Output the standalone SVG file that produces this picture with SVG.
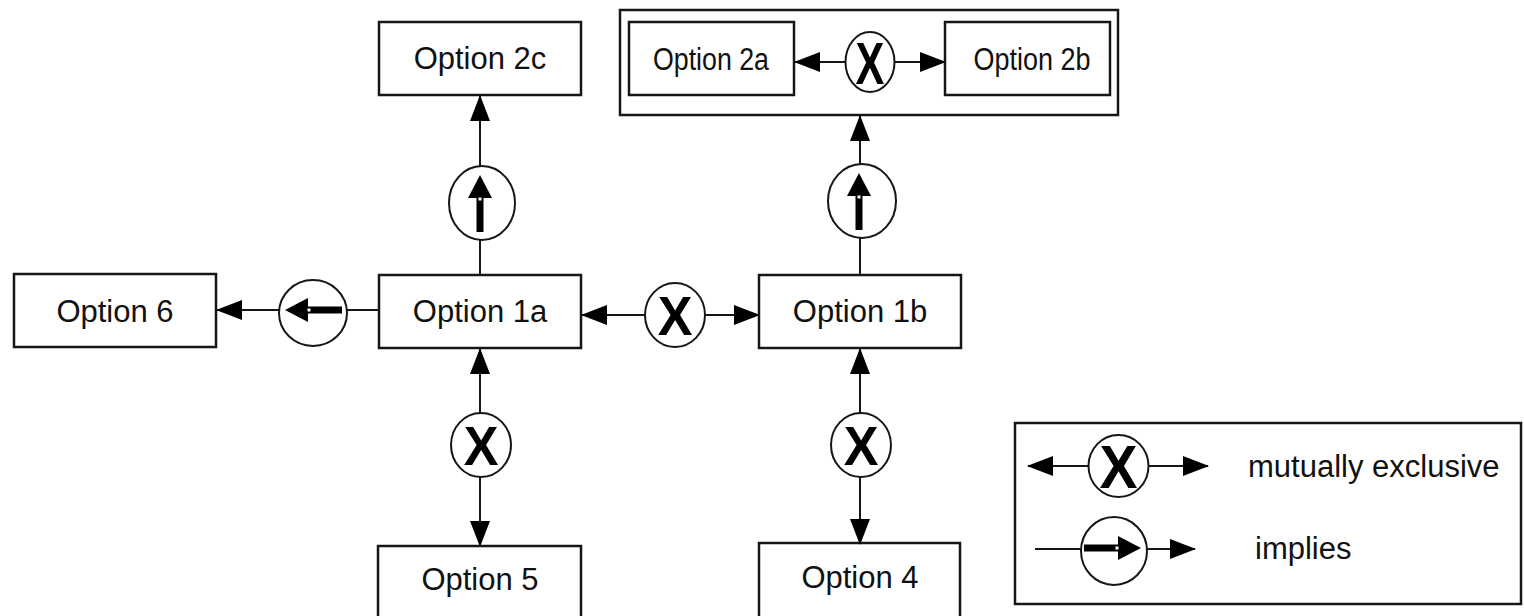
<svg xmlns="http://www.w3.org/2000/svg" width="1524" height="616" viewBox="0 0 1524 616">
  <style>
    .box { fill: #ffffff; stroke: #161616; stroke-width: 2.5; }
    .gate { fill: #ffffff; stroke: #161616; stroke-width: 2; }
    .wire { fill: none; stroke: #161616; stroke-width: 2; }
    .label { font-family: "Liberation Sans", Arial, sans-serif; font-size: 31px; fill: #111111; text-anchor: middle; }
    .xmark { font-family: "Liberation Sans", Arial, sans-serif; font-weight: bold; fill: #000000; text-anchor: middle; }
  </style>
  <defs>
    <marker id="head" markerUnits="userSpaceOnUse" markerWidth="26" markerHeight="20" viewBox="0 0 26 20" refX="25" refY="10" orient="auto">
      <path d="M0,0 L26,10 L0,20 Z" fill="#000000"/>
    </marker>
    <!-- thick "implies" arrow, pointing right, centred on the origin -->
    <g id="implies-glyph">
      <rect x="-29" y="-3.5" width="36" height="7" fill="#000000"/>
      <path d="M5,-12 L28,0 L5,12 Z" fill="#000000"/>
      <rect x="2.5" y="-1.5" width="3" height="3" fill="#ffffff"/>
    </g>
  </defs>

  <rect width="1524" height="616" fill="#ffffff"/>

  <!-- option 2 group container -->
  <g id="option2-group">
    <rect class="box" x="620" y="10" width="498" height="105"/>
  </g>

  <g id="option2a">
    <rect class="box" x="629" y="22" width="165" height="73"/>
    <text class="label" x="711" y="70" textLength="116" lengthAdjust="spacingAndGlyphs">Option 2a</text>
  </g>
  <g id="option2b">
    <rect class="box" x="945" y="22" width="165" height="73"/>
    <text class="label" x="1032" y="70" textLength="117" lengthAdjust="spacingAndGlyphs">Option 2b</text>
  </g>
  <g id="gate-2a-2b">
    <ellipse class="gate" cx="870" cy="62" rx="24.5" ry="30"/>
    <text class="xmark" font-size="60" transform="translate(870,84) scale(0.72,1)">X</text>
  </g>

  <g id="option2c">
    <rect class="box" x="379" y="22" width="202" height="73"/>
    <text class="label" x="480" y="69">Option 2c</text>
  </g>

  <g id="gate-1a-2c">
    <ellipse class="gate" cx="482" cy="203" rx="33" ry="37"/>
    <use href="#implies-glyph" transform="translate(480,203) rotate(-90)"/>
  </g>

  <g id="gate-1b-2">
    <ellipse class="gate" cx="862" cy="201" rx="34" ry="37"/>
    <use href="#implies-glyph" transform="translate(859,201) rotate(-90)"/>
  </g>

  <g id="option6">
    <rect class="box" x="14" y="274" width="202" height="73"/>
    <text class="label" x="115" y="322">Option 6</text>
  </g>

  <g id="gate-1a-6">
    <ellipse class="gate" cx="313" cy="313" rx="34" ry="33"/>
    <use href="#implies-glyph" transform="translate(313,310) rotate(180)"/>
  </g>

  <g id="option1a">
    <rect class="box" x="379" y="275" width="202" height="73"/>
    <text class="label" x="480" y="322">Option 1a</text>
  </g>

  <g id="gate-1a-1b">
    <ellipse class="gate" cx="675" cy="315" rx="30" ry="32"/>
    <text class="xmark" font-size="56" transform="translate(675,335) scale(0.93,1)">X</text>
  </g>

  <g id="option1b">
    <rect class="box" x="759" y="275" width="202" height="73"/>
    <text class="label" x="860" y="322">Option 1b</text>
  </g>

  <g id="gate-1a-5">
    <ellipse class="gate" cx="481" cy="445" rx="30" ry="32"/>
    <text class="xmark" font-size="56" transform="translate(481,465) scale(0.93,1)">X</text>
  </g>

  <g id="gate-1b-4">
    <ellipse class="gate" cx="861" cy="445" rx="30" ry="32"/>
    <text class="xmark" font-size="56" transform="translate(861,465) scale(0.93,1)">X</text>
  </g>

  <g id="option5">
    <rect class="box" x="378" y="546" width="203" height="80"/>
    <text class="label" x="480" y="590">Option 5</text>
  </g>

  <g id="option4">
    <rect class="box" x="759" y="543" width="201" height="83"/>
    <text class="label" x="860" y="588">Option 4</text>
  </g>

  <!-- connectors, drawn over the node fills -->
  <g id="connectors">
    <line class="wire" x1="480" y1="275" x2="480" y2="240"/>
    <line class="wire" x1="480" y1="166" x2="480" y2="96" marker-end="url(#head)"/>

    <line class="wire" x1="860" y1="275" x2="860" y2="238"/>
    <line class="wire" x1="860" y1="164" x2="860" y2="116" marker-end="url(#head)"/>

    <line class="wire" x1="379" y1="310" x2="347" y2="310"/>
    <line class="wire" x1="279" y1="310" x2="217" y2="310" marker-end="url(#head)"/>

    <line class="wire" x1="645" y1="315" x2="582" y2="315" marker-end="url(#head)"/>
    <line class="wire" x1="705" y1="315" x2="759" y2="315" marker-end="url(#head)"/>

    <line class="wire" x1="480" y1="413" x2="480" y2="349" marker-end="url(#head)"/>
    <line class="wire" x1="480" y1="477" x2="480" y2="546" marker-end="url(#head)"/>

    <line class="wire" x1="860" y1="413" x2="860" y2="349" marker-end="url(#head)"/>
    <line class="wire" x1="860" y1="477" x2="860" y2="544" marker-end="url(#head)"/>

    <line class="wire" x1="846" y1="62" x2="795" y2="62" marker-end="url(#head)"/>
    <line class="wire" x1="895" y1="62" x2="945" y2="62" marker-end="url(#head)"/>
  </g>

  <!-- legend -->
  <g id="legend">
    <rect class="box" x="1015" y="423" width="506" height="181"/>
    <line class="wire" x1="1088" y1="466" x2="1028" y2="466" marker-end="url(#head)"/>
    <line class="wire" x1="1149" y1="466" x2="1208" y2="466" marker-end="url(#head)"/>
    <ellipse class="gate" cx="1118.5" cy="466" rx="30" ry="31"/>
    <text class="xmark" font-size="62" transform="translate(1118.5,488) scale(0.92,1)">X</text>
    <text class="label" x="1248" y="477" style="text-anchor:start">mutually exclusive</text>

    <line class="wire" x1="1035" y1="549" x2="1081" y2="549"/>
    <line class="wire" x1="1147" y1="549" x2="1195" y2="549" marker-end="url(#head)"/>
    <ellipse class="gate" cx="1114" cy="551" rx="33" ry="34"/>
    <use href="#implies-glyph" transform="translate(1113,548)"/>
    <text class="label" x="1255" y="559" style="text-anchor:start">implies</text>
  </g>
</svg>
